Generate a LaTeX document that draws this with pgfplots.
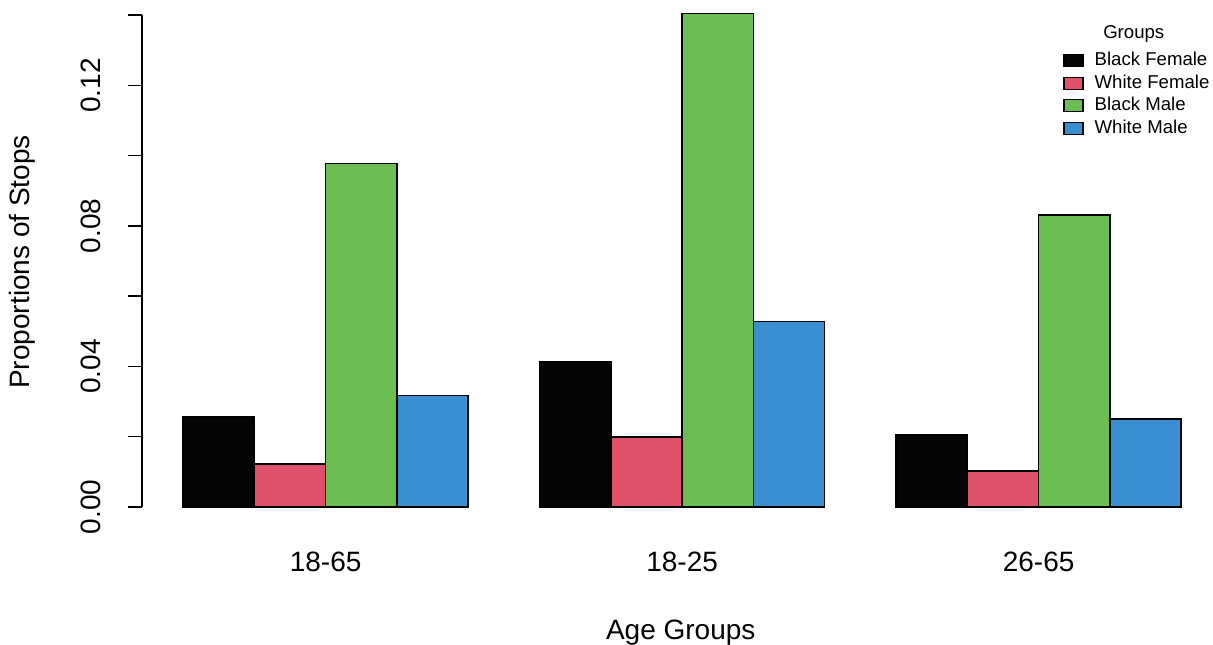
\documentclass[border=0pt]{standalone}
\usepackage{fontspec}
\setmainfont{Liberation Sans}
\usepackage{pgfplots}
\pgfplotsset{compat=1.18}
\definecolor{cBF}{HTML}{050505}
\definecolor{cWF}{HTML}{E0526A}
\definecolor{cBM}{HTML}{6DBE52}
\definecolor{cWM}{HTML}{3A8FD0}
\begin{document}
\begin{tikzpicture}
\useasboundingbox (-71pt,-58.5pt) rectangle (535.5pt,263.5pt);
\begin{axis}[
  at={(0pt,0pt)}, anchor=south west,
  scale only axis, width=535.5pt, height=263.5pt,
  xmin=0.425, xmax=15.446, ymin=-0.0057, ymax=0.1443,
  axis x line*=bottom, axis y line*=left,
  x axis line style={draw=none}, y axis line style={draw=none},
  xtick={3,8,13}, xticklabels={18-65,18-25,26-65},
  x tick style={draw=none},
  xticklabel style={anchor=center, yshift=-10.5pt, font=\fontsize{14}{16}\selectfont},
  ytick={0,0.02,0.04,0.06,0.08,0.10,0.12,0.14},
  yticklabels={0.00,,0.04,,0.08,,0.12,},
  y tick style={black, line width=0.75pt},
  tick align=outside, major tick length=7pt,
  yticklabel style={rotate=90, anchor=center, yshift=18.5pt, font=\fontsize{14}{16}\selectfont},
  xlabel={Age Groups},
  xlabel style={at={(axis description cs:0.503,0)}, anchor=center, yshift=-53pt, font=\fontsize{14}{16}\selectfont},
  ylabel={Proportions of Stops},
  ylabel style={at={(axis description cs:0,0.503)}, anchor=center, yshift=60pt, font=\fontsize{14}{16}\selectfont},
  clip=false,
  legend style={at={(axis description cs:0.86,0.905)}, anchor=north west, draw=none, fill=none,
    inner sep=0pt, row sep=1pt, font=\fontsize{9.3}{9.3}\selectfont,
    nodes={inner sep=1pt},
    /tikz/every odd column/.append style={column sep=4.5pt}},
  legend cell align=left,
  legend image code/.code={\draw[#1, draw=black, line width=0.6pt] (0pt,-3pt) rectangle (9.5pt,3pt);},
]
\addplot[ybar, bar width=1, bar shift=0pt, fill=cBF, draw=black, line width=0.75pt]
  coordinates {(1.5,0.0257) (6.5,0.0413) (11.5,0.0207)};
\addlegendentry{Black Female}
\addplot[ybar, bar width=1, bar shift=0pt, fill=cWF, draw=black, line width=0.75pt]
  coordinates {(2.5,0.0122) (7.5,0.0199) (12.5,0.0102)};
\addlegendentry{White Female}
\addplot[ybar, bar width=1, bar shift=0pt, fill=cBM, draw=black, line width=0.75pt]
  coordinates {(3.5,0.0978) (8.5,0.1405) (13.5,0.0831)};
\addlegendentry{Black Male}
\addplot[ybar, bar width=1, bar shift=0pt, fill=cWM, draw=black, line width=0.75pt]
  coordinates {(4.5,0.0317) (9.5,0.0528) (14.5,0.0250)};
\addlegendentry{White Male}
\draw[black, line width=0.75pt] (axis cs:0.425,0) -- (axis cs:0.425,0.14);
\node[font=\fontsize{9.3}{9.3}\selectfont] at (axis description cs:0.926,0.935) {Groups};
\end{axis}
\end{tikzpicture}
\end{document}
